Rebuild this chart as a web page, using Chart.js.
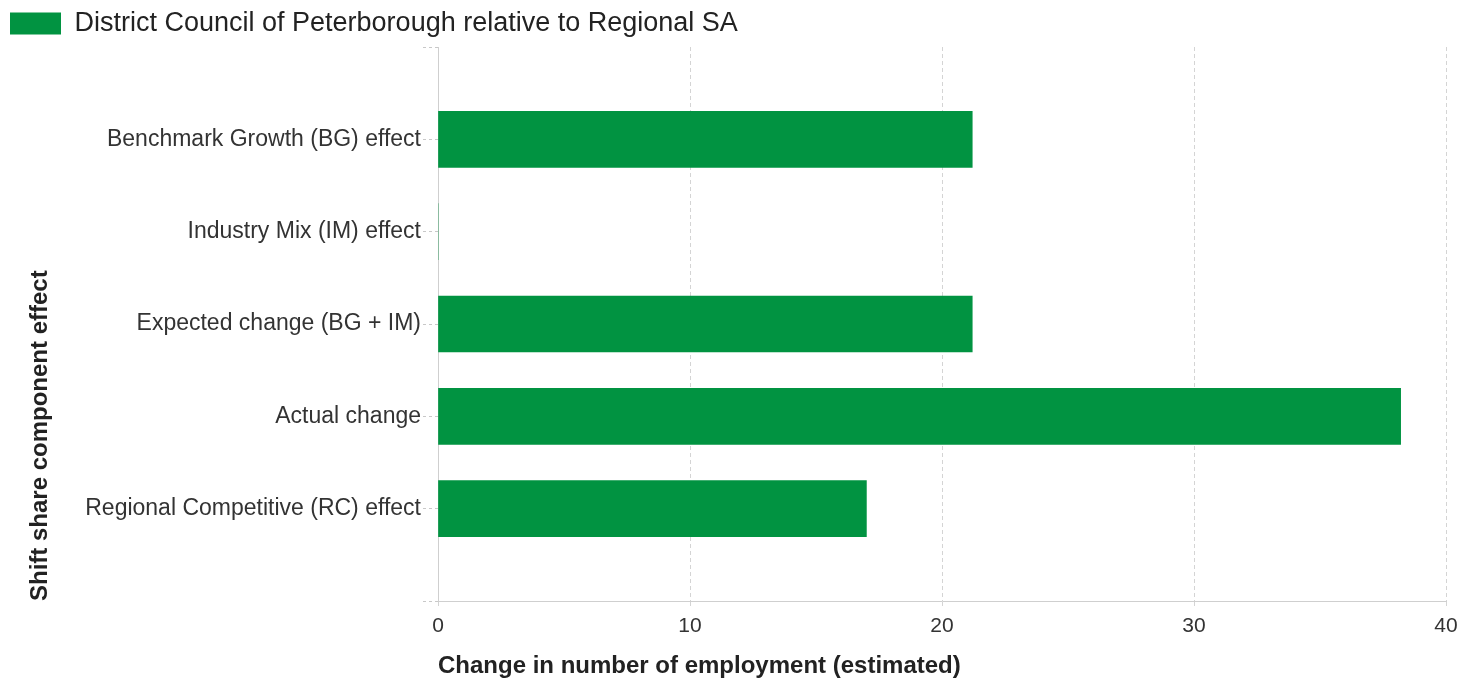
<!DOCTYPE html>
<html>
<head>
<meta charset="utf-8">
<script src="https://cdn.jsdelivr.net/npm/chart.js@4"></script>
<style>
  body { margin: 0; background: #fff; }
  #wrap { width: 1478px; height: 687px; }
</style>
</head>
<body>
<div id="wrap"><canvas id="shiftShareChart"></canvas></div>
<script>
// shift share chart data
var seriesName = 'District Council of Peterborough relative to Regional SA';
var categories = [
    'Benchmark Growth (BG) effect',
    'Industry Mix (IM) effect',
    'Expected change (BG + IM)',
    'Actual change',
    'Regional Competitive (RC) effect'
];
var values = [21.2, 0, 21.2, 38.2, 17.0];
var xMin = 0, xMax = 40, xStep = 10;

// blank slots top and bottom, like the original axis
var labels = [''].concat(categories, ['']);
var data = [null].concat(values, [null]);

var fontFamily = '"Liberation Sans", Arial, sans-serif';

var ctx = document.getElementById('shiftShareChart').getContext('2d');
var myChart = new Chart(ctx, {
    type: 'bar',
    data: {
        labels: labels,
        datasets: [{
            label: seriesName,
            data: data,
            backgroundColor: '#019341',
            borderColor: '#019341',
            borderWidth: 0,
            barThickness: 56
        }]
    },
    options: {
        indexAxis: 'y',
        responsive: true,
        maintainAspectRatio: false,
        animation: false,
        layout: {
            padding: { left: 0, right: 32, top: 0, bottom: 0 }
        },
        plugins: {
            legend: {
                position: 'top',
                align: 'start',
                labels: {
                    boxWidth: 51,
                    boxHeight: 22,
                    padding: 10,
                    color: '#222',
                    font: { family: fontFamily, size: 27 }
                }
            },
            tooltip: { enabled: false }
        },
        scales: {
            x: {
                min: xMin,
                max: xMax,
                ticks: {
                    stepSize: xStep,
                    color: '#333',
                    padding: 7,
                    font: { family: fontFamily, size: 21 }
                },
                grid: {
                    color: '#d4d4d4',
                    tickLength: 6,
                    tickColor: '#d4d4d4',
                    tickBorderDash: [4, 3]
                },
                border: { display: true, color: '#cfcfcf', width: 1, dash: [4, 3] },
                title: {
                    display: true,
                    text: 'Change in number of employment (estimated)',
                    align: 'start',
                    color: '#222',
                    padding: { top: 4, bottom: 6 },
                    font: { family: fontFamily, size: 24, weight: 'bold' }
                },
                afterFit: function (scale) { scale.height = 86; }
            },
            y: {
                offset: false,
                ticks: {
                    color: '#333',
                    padding: 2,
                    autoSkip: false,
                    font: { family: fontFamily, size: 23 }
                },
                grid: {
                    offset: false,
                    drawOnChartArea: false,
                    tickLength: 15,
                    tickColor: '#c8c8c8',
                    tickBorderDash: [3, 3]
                },
                border: { display: true, color: '#cfcfcf', width: 1 },
                title: {
                    display: true,
                    text: 'Shift share component effect',
                    align: 'start',
                    color: '#222',
                    padding: { top: 26, bottom: 4 },
                    font: { family: fontFamily, size: 24, weight: 'bold' }
                },
                afterFit: function (scale) { scale.width = 438; }
            }
        }
    }
});
</script>
</body>
</html>
